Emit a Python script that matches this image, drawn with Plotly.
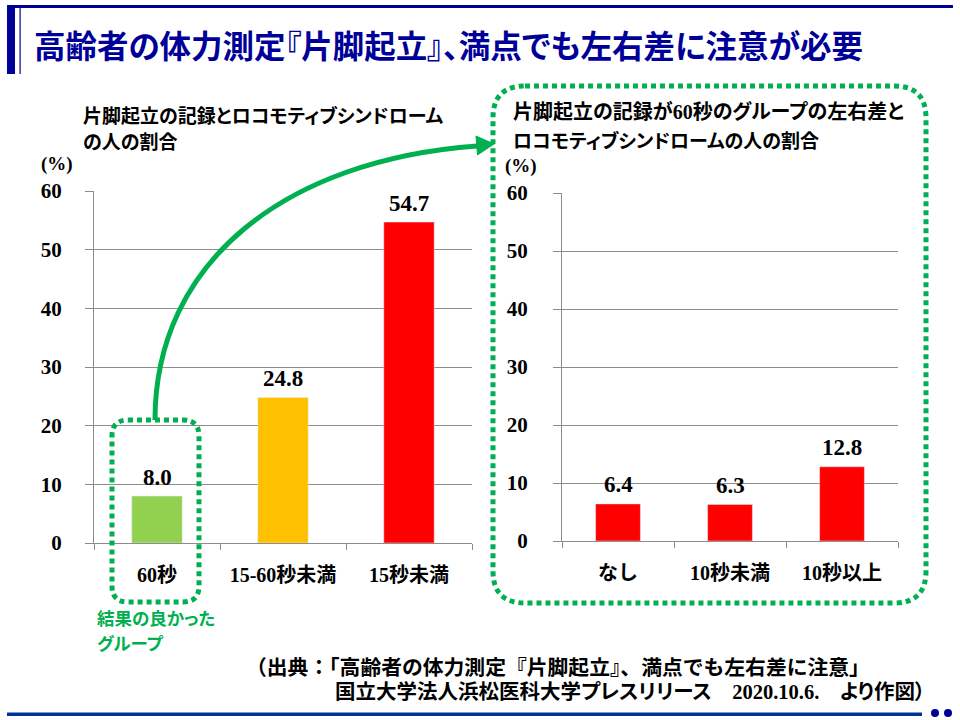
import plotly.graph_objects as go

# ---------------- data ----------------
left_categories = ["60秒", "15-60秒未満", "15秒未満"]
left_values = [8.0, 24.8, 54.7]
left_colors = ["#92D050", "#FFC000", "#FF0000"]

right_categories = ["なし", "10秒未満", "10秒以上"]
right_values = [6.4, 6.3, 12.8]
right_colors = ["#FF0000", "#FF0000", "#FF0000"]

y_ticks = [0, 10, 20, 30, 40, 50, 60]

main_title = "高齢者の体力測定『片脚起立』、満点でも左右差に注意が必要"
left_title = ["片脚起立の記録とロコモティブシンドローム", "の人の割合"]
right_title = ["片脚起立の記録が60秒のグループの左右差と", "ロコモティブシンドロームの人の割合"]
note_text = ["結果の良かった", "グループ"]
source_text = ["（出典：「高齢者の体力測定『片脚起立』、満点でも左右差に注意」",
               "国立大学法人浜松医科大学プレスリリース　2020.10.6.　より作図）"]

# ---------------- helpers ----------------
W, H = 960, 720
def fx(x): return x / W
def fy(y): return 1 - y / H

SERIF = "Liberation Serif, 'Noto Sans CJK JP', serif"
GOTHIC = "'Noto Sans CJK JP', sans-serif"
NAVY = "#000099"
GREEN = "#00B050"
GRID = "#8C8C8C"

def palt(s):
    return "<span style=\"font-feature-settings:'palt'\">" + s + "</span>"

fig = go.Figure()
fig.add_trace(go.Bar(x=left_categories, y=left_values, marker_color=left_colors,
                     width=0.4, xaxis="x", yaxis="y", hoverinfo="skip"))
fig.add_trace(go.Bar(x=right_categories, y=right_values, marker_color=right_colors,
                     width=0.4, xaxis="x2", yaxis="y2", hoverinfo="skip"))

def xaxis_cfg(domain, cats):
    return dict(domain=domain, type="category", categoryorder="array", categoryarray=cats,
                showline=True, linecolor=GRID, linewidth=1, ticks="outside",
                tickson="boundaries", ticklen=6, tickcolor=GRID, showgrid=False,
                tickfont=dict(family=SERIF, size=20, color="black", weight="bold"),
                ticklabelstandoff=14, fixedrange=True, automargin=False)

def yaxis_cfg(domain, anchor, standoff):
    return dict(domain=domain, anchor=anchor, range=[0, 60], tickvals=y_ticks,
                showgrid=True, gridcolor=GRID, gridwidth=1, zeroline=False,
                showline=True, linecolor=GRID, linewidth=1, ticks="outside",
                ticklen=8, tickcolor=GRID,
                tickfont=dict(family=SERIF, size=21, color="black", weight="bold"),
                ticklabelstandoff=standoff, fixedrange=True, automargin=False)

fig.update_layout(
    width=W, height=H, margin=dict(l=0, r=0, t=0, b=0, pad=0, autoexpand=False),
    paper_bgcolor="white", plot_bgcolor="white", showlegend=False,
    xaxis=dict(**xaxis_cfg([fx(94), fx(472)], left_categories), anchor="y"),
    yaxis=yaxis_cfg([fy(543), fy(191)], "x", 19),
    xaxis2=dict(**xaxis_cfg([fx(562), fx(898)], right_categories), anchor="y2"),
    yaxis2=yaxis_cfg([fy(541), fy(193)], "x2", 21),
)

annotations = []
# value labels
for cats, vals, xr, yr in [(left_categories, left_values, "x", "y"),
                           (right_categories, right_values, "x2", "y2")]:
    for c, v in zip(cats, vals):
        annotations.append(dict(x=c, y=v, xref=xr, yref=yr, text=f"{v:.1f}",
                                showarrow=False, yanchor="middle", yshift=19,
                                font=dict(family=SERIF, size=23, color="black", weight="bold")))

def txt(x, y, text, size, color="black", family=GOTHIC, xanchor="left", align="left"):
    annotations.append(dict(x=fx(x), y=fy(y), xref="paper", yref="paper", text=text,
                            showarrow=False, xanchor=xanchor, yanchor="middle",
                            borderpad=0, align=align,
                            font=dict(family=family, size=size, color=color, weight="bold")))

txt(33, 44, palt(main_title), 31.5, NAVY)
txt(82, 114, palt(left_title[0]), 19)
txt(82, 141, palt(left_title[1]), 19)
txt(512, 111, palt(right_title[0]), 20, family=SERIF)
txt(512, 139, palt(right_title[1]), 19)
txt(57, 164, "(%)", 19, family=SERIF, xanchor="center", align="center")
txt(521, 166, "(%)", 19, family=SERIF, xanchor="center", align="center")
txt(96, 617, palt(note_text[0]), 17.5, GREEN)
txt(96, 642, palt(note_text[1]), 17.5, GREEN)
txt(245, 667, source_text[0], 20.8, family=SERIF)
txt(334, 692, palt(source_text[1]), 20.5, family=SERIF)
fig.update_layout(annotations=annotations)

shapes = []
def P(x, y): return f"{fx(x):.5f},{fy(y):.5f}"

def rrect(x0, y0, x1, y1, r):
    return (f"M {P(x0+r, y0)} L {P(x1-r, y0)} Q {P(x1, y0)} {P(x1, y0+r)} "
            f"L {P(x1, y1-r)} Q {P(x1, y1)} {P(x1-r, y1)} L {P(x0+r, y1)} "
            f"Q {P(x0, y1)} {P(x0, y1-r)} L {P(x0, y0+r)} Q {P(x0, y0)} {P(x0+r, y0)} Z")

dotted = dict(color=GREEN, width=5, dash="5px,4px")
shapes.append(dict(type="path", xref="paper", yref="paper", path=rrect(493, 86, 926, 603, 32),
                   line=dotted, layer="above"))
shapes.append(dict(type="path", xref="paper", yref="paper", path=rrect(112, 420, 199, 602, 16),
                   line=dotted, layer="above"))
# curved arrow
shapes.append(dict(type="path", xref="paper", yref="paper",
                   path=f"M {P(155, 420)} C {P(155, 262)} {P(285, 160)} {P(477, 146)}",
                   line=dict(color=GREEN, width=5), layer="above"))
shapes.append(dict(type="path", xref="paper", yref="paper",
                   path=f"M {P(494, 144)} L {P(477.5, 155)} L {P(476, 136)} Z",
                   line=dict(color=GREEN, width=1), fillcolor=GREEN, layer="above"))
# header decorations
shapes.append(dict(type="rect", xref="paper", yref="paper", x0=fx(7), x1=fx(953), y0=fy(8), y1=fy(5),
                   fillcolor=NAVY, line=dict(width=0)))
shapes.append(dict(type="rect", xref="paper", yref="paper", x0=fx(7), x1=fx(15), y0=fy(74), y1=fy(5),
                   fillcolor=NAVY, line=dict(width=0)))
shapes.append(dict(type="rect", xref="paper", yref="paper", x0=fx(19.5), x1=fx(20.7), y0=fy(74), y1=fy(8),
                   fillcolor=NAVY, line=dict(width=0)))
# footer decorations
shapes.append(dict(type="rect", xref="paper", yref="paper", x0=fx(7), x1=fx(922), y0=fy(716), y1=fy(712.5),
                   fillcolor="#003399", line=dict(width=0)))
for cx in [935, 948]:
    shapes.append(dict(type="circle", xref="paper", yref="paper", x0=fx(cx-4), x1=fx(cx+4),
                       y0=fy(717), y1=fy(709), fillcolor=NAVY, line=dict(width=0)))
fig.update_layout(shapes=shapes)

fig.write_html("out.html",
               config={"displayModeBar": False, "responsive": False},
               post_script="document.body.style.margin='0';"
                           "document.documentElement.style.overflow='hidden';"
                           "document.body.style.overflow='hidden';")
